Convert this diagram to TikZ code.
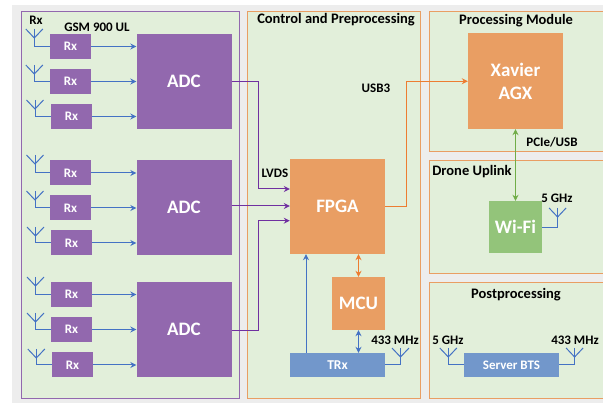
\documentclass[tikz,border=0pt]{standalone}
\usepackage{fontspec}
\setmainfont{Carlito}
\usetikzlibrary{arrows.meta,positioning}
\definecolor{panelfill}{HTML}{E2EFDA}
\definecolor{pagegrey}{HTML}{EDEDED}
\definecolor{purplebox}{HTML}{9268AE}
\definecolor{orangebox}{HTML}{E99E63}
\definecolor{bluebox}{HTML}{7297CB}
\definecolor{greenbox}{HTML}{93C47A}
\definecolor{purpleline}{HTML}{7030A0}
\definecolor{orangeline}{HTML}{ED7D31}
\definecolor{blueline}{HTML}{4472C4}
\definecolor{greenline}{HTML}{70AD47}
\tikzset{
  >={Stealth[length=6pt,width=6pt]},
  panel/.style={draw=orangebox,line width=0.9pt,fill=panelfill,inner sep=0pt,anchor=north west},
  block/.style={inner sep=0pt,font=\bfseries\fontsize{19}{23}\selectfont,text=white,align=center},
  rxbox/.style={block,fill=purplebox,minimum width=41pt,minimum height=25pt,font=\bfseries\fontsize{13}{15}\selectfont},
  adcbox/.style={block,fill=purplebox,minimum width=95pt,minimum height=95pt},
  label/.style={inner sep=0pt,font=\bfseries\fontsize{13}{15}\selectfont},
  title/.style={inner sep=0pt,font=\bfseries\fontsize{14.5}{17}\selectfont},
  wire/.style={blueline,line width=1pt},
  lvds/.style={purpleline,line width=1pt},
  usb/.style={orangeline,line width=1pt},
  antenna/.pic={\draw[wire] (-8.5,0) -- (0,9) -- (8.5,0);}
}
\begin{document}
\begin{tikzpicture}[x=1pt,y=-1pt]
  \useasboundingbox (0,0) rectangle (603,403);
  \fill[pagegrey] (12,5) rectangle (603,403);
  % panels
  \node[panel,draw=purplebox,minimum width=218pt,minimum height=386.5pt] (front) at (20.5,11.5) {};
  \node[panel,minimum width=173.5pt,minimum height=386.5pt] (control) at (246.5,11.5) {};
  \node[panel,minimum width=174pt,minimum height=139.5pt] (processing) at (428.5,11.5) {};
  \node[panel,minimum width=174pt,minimum height=113pt] (uplink) at (428.5,160) {};
  \node[panel,minimum width=174pt,minimum height=116pt] (post) at (428.5,282) {};
  % titles
  \node[label] (lrx) at (36,20) {Rx};
  \node[label] (lgsm) at (97,27) {GSM 900 UL};
  \node[title] (lcontrol) at (336,20) {Control and Preprocessing};
  \node[title] (lprocessing) at (516,21) {Processing Module};
  \node[title] (luplink) at (472,172) {Drone Uplink};
  \node[title] (lpost) at (516,295) {Postprocessing};
  \node[label] (lusb) at (376,88) {USB3};
  \node[label] (llvds) at (275,173) {LVDS};
  \node[label] (lpcie) at (552,142) {PCIe/USB};
  \node[label] (lwifi) at (557,198) {5 GHz};
  \node[label] (lmhz) at (395,340) {433 MHz};
  \node[label] (lsga) at (448,340) {5 GHz};
  \node[label] (lsmhz) at (575,340) {433 MHz};
  % receivers
  \node[rxbox] (rxa) at (70.5,46.5) {Rx};
  \node[rxbox] (rxb) at (70.5,81.5) {Rx};
  \node[rxbox] (rxc) at (71.5,116.5) {Rx};
  \node[rxbox] (rxd) at (70.5,173) {Rx};
  \node[rxbox] (rxe) at (70.5,208) {Rx};
  \node[rxbox] (rxf) at (71.5,243) {Rx};
  \node[rxbox] (rxg) at (71.5,294.5) {Rx};
  \node[rxbox] (rxh) at (71.5,329.5) {Rx};
  \node[rxbox] (rxi) at (72.5,365) {Rx};
  % main blocks
  \node[adcbox] (adca) at (184,81.25) {ADC};
  \node[adcbox] (adcb) at (184,207.5) {ADC};
  \node[adcbox] (adcc) at (184,329.5) {ADC};
  \node[block,fill=orangebox,minimum width=95pt,minimum height=95pt] (fpga) at (337.5,206.5) {FPGA};
  \node[block,fill=orangebox,minimum width=53pt,minimum height=53pt] (mcu) at (358.5,303.5) {MCU};
  \node[block,fill=bluebox,minimum width=95pt,minimum height=24pt,font=\bfseries\fontsize{13.5}{15}\selectfont] (trx) at (337.5,365) {TRx};
  \node[block,fill=orangebox,minimum width=95pt,minimum height=95.5pt] (xavier) at (515.5,81.25) {Xavier\\AGX};
  \node[block,fill=greenbox,minimum width=53pt,minimum height=52.5pt] (wifi) at (515.5,227.25) {Wi-Fi};
  \node[block,fill=bluebox,minimum width=95pt,minimum height=24pt,font=\bfseries\fontsize{13}{15}\selectfont] (bts) at (511.5,365) {Server BTS};
  % antennas
  \coordinate (anta) at (34.3,29);
  \coordinate (antb) at (34.3,65);
  \coordinate (antc) at (35,100);
  \coordinate (antd) at (35,155);
  \coordinate (ante) at (35,191);
  \coordinate (antf) at (35.5,227);
  \coordinate (antg) at (35.5,277);
  \coordinate (anth) at (35.5,313);
  \coordinate (anti) at (36.3,349);
  \coordinate (anttrx) at (400.5,348);
  \coordinate (antwifi) at (557.6,208);
  \coordinate (antbtsa) at (448.3,348);
  \coordinate (antbtsb) at (574.6,348);
  \pic at (anta) {antenna};
  \pic at (antb) {antenna};
  \pic at (antc) {antenna};
  \pic at (antd) {antenna};
  \pic at (ante) {antenna};
  \pic at (antf) {antenna};
  \pic at (antg) {antenna};
  \pic at (anth) {antenna};
  \pic at (anti) {antenna};
  \pic at (anttrx) {antenna};
  \pic at (antwifi) {antenna};
  \pic at (antbtsa) {antenna};
  \pic at (antbtsb) {antenna};
  \draw[wire] (anta) |- (rxa);
  \draw[wire] (antb) |- (rxb);
  \draw[wire] (antc) |- (rxc);
  \draw[wire] (antd) |- (rxd);
  \draw[wire] (ante) |- (rxe);
  \draw[wire] (antf) |- (rxf);
  \draw[wire] (antg) |- (rxg);
  \draw[wire] (anth) |- (rxh);
  \draw[wire] (anti) |- (rxi);
  \draw[wire] (anttrx) |- (trx);
  \draw[wire] (antwifi) |- (wifi);
  \draw[wire] (antbtsa) |- (bts);
  \draw[wire] (antbtsb) |- (bts);
  % receiver outputs
  \draw[wire,->] (rxa) -- (rxa -| adca.west);
  \draw[wire,->] (rxb) -- (rxb -| adca.west);
  \draw[wire,->] (rxc) -- (rxc -| adca.west);
  \draw[wire,->] (rxd) -- (rxd -| adcb.west);
  \draw[wire,->] (rxe) -- (rxe -| adcb.west);
  \draw[wire,->] (rxf) -- (rxf -| adcb.west);
  \draw[wire,->] (rxg) -- (rxg -| adcc.west);
  \draw[wire,->] (rxh) -- (rxh -| adcc.west);
  \draw[wire,->] (rxi) -- (rxi -| adcc.west);
  % links between blocks
  \coordinate (lvdsa) at (258,189);
  \coordinate (lvdsc) at (258,220.7);
  \coordinate (usbup) at (406.5,81.25);
  \draw[lvds,->] (adca) -| (lvdsa) -- (lvdsa -| fpga.west);
  \draw[lvds,->] ([yshift=1.5pt]adcb.east) -- ([yshift=1.5pt]adcb.east -| fpga.west);
  \draw[lvds,->] ([yshift=-1.5pt]adcc.east) -| (lvdsc) -- (lvdsc -| fpga.west);
  \draw[usb,->] (fpga) -| (usbup) -- (xavier);
  \draw[usb,<->] (mcu) -- (mcu |- fpga.south);
  \draw[wire,<->] (mcu) -- (mcu |- trx.north);
  \draw[wire,->] ([xshift=-31.5pt]trx.north) -- ([xshift=-31.5pt]fpga.south);
  \draw[greenline,line width=1pt,<->] (wifi) -- (xavier);
\end{tikzpicture}
\end{document}
